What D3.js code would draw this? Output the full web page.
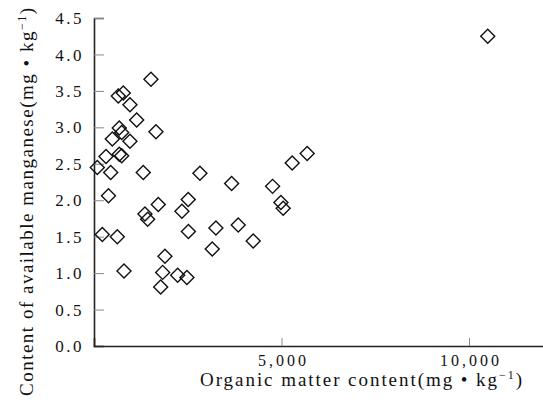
<!DOCTYPE html>
<html lang="en">
<head>
<meta charset="UTF-8"/>
<title>Organic matter vs available manganese</title>
<script src="https://d3js.org/d3.v7.min.js"></script>
<style>
    body { margin: 0; background: #fff; }
    text { font-family: "Liberation Serif", "DejaVu Serif", serif; fill: #111; }
</style>
</head>
<body>
<script>
    // organic matter content (mg/kg)
    var organic = [10500, 1519, 648, 781, 959, 1138, 1652, 674, 738, 488,
                   959, 674, 738, 320, 88, 445, 1314, 2825, 386, 3670,
                   4762, 4984, 5045, 1714, 1359, 1431, 2513, 2345, 221, 621,
                   2518, 3251, 3846, 4245, 3153, 1892, 800, 1831, 2231, 2478,
                   1778, 5685, 5285];
    // available manganese (mg/kg)
    var manganese = [4.25, 3.66, 3.43, 3.47, 3.31, 3.10, 2.94, 2.99, 2.93, 2.84,
                     2.81, 2.63, 2.61, 2.60, 2.45, 2.38, 2.38, 2.37, 2.06, 2.23,
                     2.19, 1.97, 1.89, 1.94, 1.81, 1.74, 2.01, 1.85, 1.53, 1.50,
                     1.57, 1.62, 1.66, 1.44, 1.33, 1.23, 1.03, 1.01, 0.97, 0.94,
                     0.81, 2.64, 2.51];
    var xTicks = [5000, 10000];
    var yTicks = [0, 0.5, 1, 1.5, 2, 2.5, 3, 3.5, 4, 4.5];

    var w = 543, h = 406;
    var svg = d3.select("body").append("svg")
        .attr("width", w)
        .attr("height", h);

    var x = d3.scaleLinear().domain([0, 12000]).range([94, 544]);
    var y = d3.scaleLinear().domain([0, 4.5]).range([346, 18]);

    // y axis
    var yAxis = svg.append("g")
        .attr("transform", "translate(94,0)")
        .call(d3.axisRight(y).tickValues(yTicks).tickSize(10).tickFormat(""));
    yAxis.select(".domain").attr("stroke", "#222").attr("stroke-width", 1.6);
    yAxis.selectAll(".tick line").attr("stroke", "#888").attr("stroke-width", 1);

    svg.append("g").selectAll("text")
        .data(yTicks)
        .enter().append("text")
        .attr("x", 84)
        .attr("y", function(d) { return y(d); })
        .attr("dy", "0.36em")
        .attr("text-anchor", "end")
        .attr("font-size", "17px")
        .attr("letter-spacing", "2.5px")
        .text(function(d) { return d3.format(".1f")(d); });

    // x axis
    var xAxis = svg.append("g")
        .attr("transform", "translate(0,346)")
        .call(d3.axisTop(x).tickValues(xTicks).tickSize(8).tickFormat(""));
    xAxis.select(".domain").attr("stroke", "#222").attr("stroke-width", 1.6);
    xAxis.selectAll(".tick line").attr("stroke", "#888").attr("stroke-width", 1);

    svg.append("g").selectAll("text")
        .data(xTicks)
        .enter().append("text")
        .attr("x", function(d) { return x(d) + 2; })
        .attr("y", 366)
        .attr("text-anchor", "middle")
        .attr("font-size", "16px")
        .attr("letter-spacing", "3px")
        .text(function(d) { return d3.format(",")(d); });

    // axis titles
    var xt = svg.append("text")
        .attr("x", 200)
        .attr("y", 386)
        .attr("font-size", "19px")
        .attr("textLength", 322)
        .attr("lengthAdjust", "spacing");
    xt.append("tspan").text("Organic matter content(mg \u2022 kg");
    xt.append("tspan").attr("baseline-shift", "super").attr("font-size", "12px").text("\u22121");
    xt.append("tspan").text(")");

    var yt = svg.append("text")
        .attr("transform", "translate(33,396) rotate(-90)")
        .attr("font-size", "19px")
        .attr("textLength", 388)
        .attr("lengthAdjust", "spacing");
    yt.append("tspan").text("Content of available manganese(mg \u2022 kg");
    yt.append("tspan").attr("baseline-shift", "super").attr("font-size", "12px").text("\u22121");
    yt.append("tspan").text(")");

    // points
    var diamond = d3.symbol().type(d3.symbolSquare).size(98);
    svg.append("g").selectAll("path")
        .data(d3.range(organic.length))
        .enter().append("path")
        .attr("d", diamond)
        .attr("transform", function(i) {
            return "translate(" + x(organic[i]) + "," + y(manganese[i]) + ") rotate(45)";
        })
        .attr("fill", "none")
        .attr("stroke", "#111")
        .attr("stroke-width", 1.4);
</script>
</body>
</html>
